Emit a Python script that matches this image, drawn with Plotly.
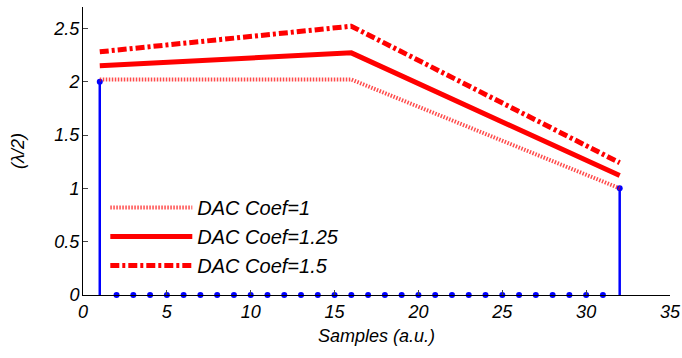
import plotly.graph_objects as go

# Stem data (samples 1..32)
samples = list(range(1, 33))
stem_values = [2.0] + [0.0] * 30 + [1.0]

# DAC curves (breakpoints)
dac_x = [1, 16, 32]
dac_coef1 = [2.02, 2.02, 1.0]
dac_coef125 = [2.15, 2.27, 1.12]
dac_coef15 = [2.28, 2.52, 1.24]

x_ticks = [0, 5, 10, 15, 20, 25, 30, 35]
y_ticks = [0, 0.5, 1, 1.5, 2, 2.5]
y_tick_labels = ["0", "0.5", "1", "1.5", "2", "2.5"]

FONT = "Liberation Sans, Arial, sans-serif"

fig = go.Figure()

# stems
sx, sy = [], []
for xv, yv in zip(samples, stem_values):
    if yv != 0:
        sx += [xv, xv, None]
        sy += [0, yv, None]
fig.add_trace(go.Scatter(x=sx, y=sy, mode="lines", line=dict(color="#0000ff", width=2.5),
                         showlegend=False, hoverinfo="skip"))
fig.add_trace(go.Scatter(x=samples, y=stem_values, mode="markers",
                         marker=dict(color="#0000ff", size=6), showlegend=False, cliponaxis=False))

fig.add_trace(go.Scatter(x=dac_x, y=dac_coef1, mode="lines", name="DAC Coef=1",
                         line=dict(color="rgba(255,0,0,0.7)", width=4, dash="1.5px,1.5px")))
fig.add_trace(go.Scatter(x=dac_x, y=dac_coef125, mode="lines", name="DAC Coef=1.25",
                         line=dict(color="#ff0000", width=5)))
fig.add_trace(go.Scatter(x=dac_x, y=dac_coef15, mode="lines", name="DAC Coef=1.5",
                         line=dict(color="#ff0000", width=5, dash="9px,3px,3px,3px")))

fig.update_layout(
    width=682, height=358,
    margin=dict(l=83, r=12, t=7, b=63, autoexpand=False),
    paper_bgcolor="white", plot_bgcolor="white",
    font=dict(family=FONT, size=18, color="black", style="italic"),
    showlegend=True,
    legend=dict(x=0.038, y=0.035, xanchor="left", yanchor="bottom",
                bgcolor="rgba(0,0,0,0)", font=dict(size=20, style="italic"),
                itemwidth=82, tracegroupgap=0),
)
fig.update_xaxes(range=[0, 35], tickvals=x_ticks, ticks="inside", ticklen=5,
                 showline=True, linecolor="black", linewidth=1, showgrid=False, zeroline=False,
                 tickfont=dict(size=18, style="italic"),
                 title=dict(text="Samples (a.u.)", font=dict(size=18, style="italic"), standoff=8))
fig.update_yaxes(range=[0, 2.7], tickvals=y_ticks, ticktext=y_tick_labels, ticks="inside", ticklen=5,
                 showline=True, linecolor="black", linewidth=1, showgrid=False, zeroline=False,
                 tickfont=dict(size=18, style="italic"), ticklabelstandoff=-1,
                 title=dict(text="(λ/2)", font=dict(size=18, style="italic"), standoff=24))

fig.write_html("out.html", config={"displayModeBar": False},
               post_script="document.body.style.margin='0';document.body.style.overflow='hidden';")
